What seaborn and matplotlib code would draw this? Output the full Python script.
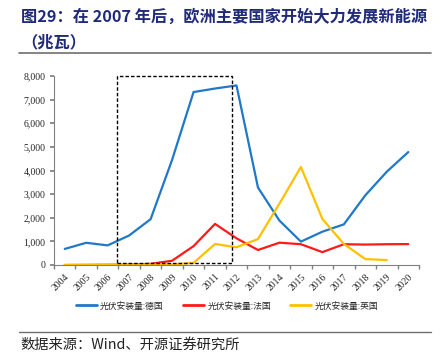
import matplotlib
matplotlib.use("Agg")
import matplotlib.pyplot as plt
import seaborn as sns
import pandas as pd
import numpy as np
from matplotlib.patches import Rectangle
from matplotlib.lines import Line2D
from matplotlib.ticker import FuncFormatter

years = [str(y) for y in range(2004, 2021)]
germany = [680, 940, 830, 1250, 1940, 4450, 7320, 7470, 7600, 3280, 1880, 990, 1410, 1720, 2950, 3950, 4780]
france = [0, 5, 10, 20, 50, 180, 800, 1740, 1130, 635, 945, 880, 545, 880, 865, 880, 885]
uk = [0, 2, 5, 10, 20, 30, 90, 890, 750, 1100, 2600, 4150, 1950, 890, 250, 210, None]
series_names = ["光伏安装量:德国", "光伏安装量:法国", "光伏安装量:英国"]
colors = ["#1F78C8", "#FF1A1A", "#FFC000"]

rows = []
for name, vals in zip(series_names, [germany, france, uk]):
    for i, (yr, v) in enumerate(zip(years, vals)):
        if v is not None:
            rows.append({"pos": i, "year": yr, "value": v, "series": name})
df = pd.DataFrame(rows)

sns.set_theme(style="white")
plt.rcParams['font.family'] = ['Noto Sans CJK SC', 'DejaVu Sans']

fig = plt.figure(figsize=(4.4, 3.61), dpi=100)
ax = fig.add_axes([54/440, 1-265/361, (419-54)/440, (265-76)/361])

sns.lineplot(data=df, x="pos", y="value", hue="series", palette=colors,
             hue_order=series_names, linewidth=1.6, ax=ax, legend=False)

ax.set_xlim(-0.5, len(years) - 0.5)
ax.set_ylim(0, 8000)
ax.set_xticks(np.arange(len(years)))
ax.set_xticklabels(years, rotation=45, ha="right", rotation_mode="anchor",
                   family="Liberation Serif", fontsize=7)
ax.set_xticks(np.arange(-0.5, len(years)), minor=True)
ax.tick_params(axis="x", which="major", length=0, pad=5)
ax.tick_params(axis="x", which="minor", length=3, color="#808080", direction="out", bottom=True)
ax.set_yticks(np.arange(0, 8001, 1000))
ax.yaxis.set_major_formatter(FuncFormatter(lambda v, p: f"{int(v):,}"))
for lab in ax.get_yticklabels():
    lab.set_family("Liberation Serif")
    lab.set_fontsize(7)
ax.tick_params(axis="y", length=3, color="#808080", direction="out", left=True, pad=3)
ax.set_xlabel("")
ax.set_ylabel("")
for s in ["top", "right"]:
    ax.spines[s].set_visible(False)
for s in ["left", "bottom"]:
    ax.spines[s].set_color("#808080")
    ax.spines[s].set_linewidth(0.8)

# highlight box (2007-2011 period)
box_left, box_right, box_bottom, box_top = 2.43, 7.8, 80, 8000
ax.add_patch(Rectangle((box_left, box_bottom), box_right - box_left, box_top - box_bottom,
                       fill=False, linestyle=(0, (2.5, 1.5)), linewidth=1.0, edgecolor="black",
                       clip_on=False, zorder=5))

# legend
handles = [Line2D([0], [0], color=c, lw=2) for c in colors]
fig.legend(handles, series_names, loc="center", bbox_to_anchor=(227/440, 1-306/361), ncol=3,
           frameon=False, fontsize=6.3, handlelength=2.4, columnspacing=2.2, handletextpad=0.4)

# title and source
title_color = "#1F2A7A"
fig.text(21/440, 1-17/361, "图29：在 2007 年后，欧洲主要国家开始大力发展新能源",
         fontsize=11.7, fontweight="bold", color=title_color, va="center", ha="left")
fig.text(21/440, 1-42/361, "（兆瓦）", fontsize=11.7, fontweight="bold",
         color=title_color, va="center", ha="left")
fig.add_artist(Line2D([19/440, 431/440], [1-53/361, 1-53/361], color="#6F6F6F", lw=1.2))
fig.add_artist(Line2D([19/440, 431/440], [1-332/361, 1-332/361], color="#6F6F6F", lw=1.0))
fig.text(20/440, 1-345/361, "数据来源：Wind、开源证券研究所", fontsize=10.3,
         color="#222222", va="center", ha="left")

fig.savefig("out.png", dpi=100)
